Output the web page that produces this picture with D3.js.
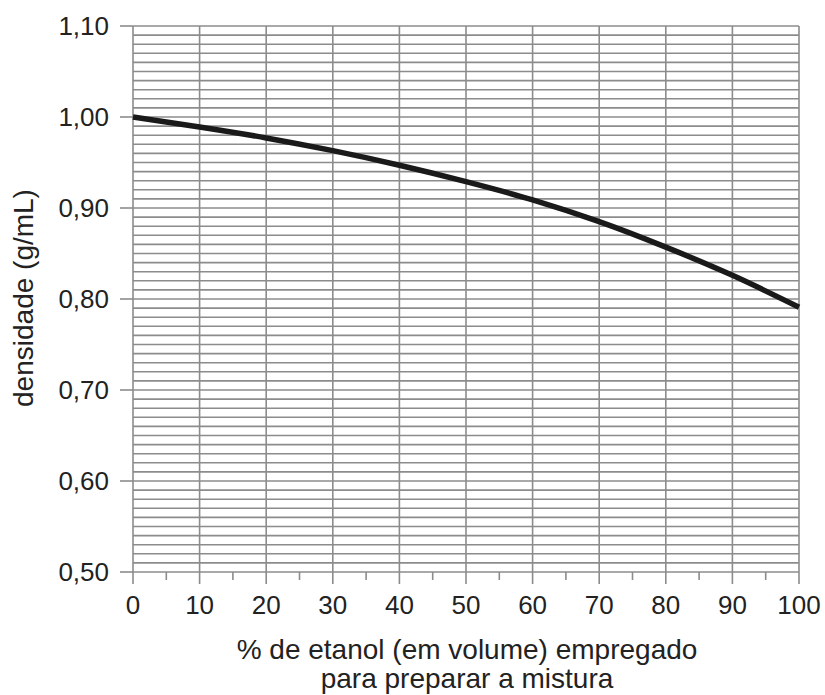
<!DOCTYPE html>
<html>
<head>
<meta charset="utf-8">
<script src="https://cdn.jsdelivr.net/npm/d3@7"></script>
<style>
    body { margin: 0; background: #fff; }
    svg { display: block; font-family: "Liberation Sans", Arial, sans-serif; }
    .grid line { stroke: #8c8c8c; stroke-width: 1.6; }
    .tick-label { fill: #222; font-size: 26px; }
    .axis-title { fill: #222; font-size: 28px; }
</style>
</head>
<body>
<svg id="chart" width="825" height="695"></svg>
<script>
(function () {
    "use strict";

    // % de etanol (em volume) e densidade
    var etanol = [0, 10, 20, 30, 40, 50, 60, 70, 80, 90, 100];
    var densidade = [1.000, 0.989, 0.977, 0.963, 0.947, 0.929, 0.909, 0.885, 0.857, 0.826, 0.791];
    var xTicks = [0, 10, 20, 30, 40, 50, 60, 70, 80, 90, 100];
    var xMinorTicks = [5, 15, 25, 35, 45, 55, 65, 75, 85, 95];
    var yTicks = [0.50, 0.60, 0.70, 0.80, 0.90, 1.00, 1.10];

    var svg = d3.select("#chart");
    var left = 133, right = 799, top = 26, bottom = 572;

    var x = d3.scaleLinear().domain([0, 100]).range([left, right]);
    var y = d3.scaleLinear().domain([0.5, 1.1]).range([bottom, top]);
    var fmt = function (v) { return d3.format(".2f")(v).replace(".", ","); };

    var grid = svg.append("g").attr("class", "grid");

    // horizontal lines every 0,01
    var hLines = d3.range(0, 61).map(function (i) { return 0.5 + i * 0.01; });
    grid.selectAll(".h")
        .data(hLines)
        .enter()
        .append("line")
        .attr("class", "h")
        .attr("x1", left)
        .attr("x2", right)
        .attr("y1", function (d) { return y(d); })
        .attr("y2", function (d) { return y(d); });

    // vertical lines + major ticks below
    grid.selectAll(".v")
        .data(xTicks)
        .enter()
        .append("line")
        .attr("class", "v")
        .attr("x1", function (d) { return x(d); })
        .attr("x2", function (d) { return x(d); })
        .attr("y1", top)
        .attr("y2", bottom + 12);

    grid.selectAll(".vm")
        .data(xMinorTicks)
        .enter()
        .append("line")
        .attr("class", "vm")
        .attr("x1", function (d) { return x(d); })
        .attr("x2", function (d) { return x(d); })
        .attr("y1", bottom)
        .attr("y2", bottom + 8);

    // y ticks to the left
    grid.selectAll(".yt")
        .data(yTicks)
        .enter()
        .append("line")
        .attr("class", "yt")
        .attr("x1", left - 13)
        .attr("x2", left)
        .attr("y1", function (d) { return y(d); })
        .attr("y2", function (d) { return y(d); });

    svg.append("g").selectAll("text")
        .data(yTicks)
        .enter()
        .append("text")
        .attr("class", "tick-label")
        .attr("x", left - 24)
        .attr("y", function (d) { return y(d); })
        .attr("dy", "0.36em")
        .attr("text-anchor", "end")
        .text(fmt);

    svg.append("g").selectAll("text")
        .data(xTicks)
        .enter()
        .append("text")
        .attr("class", "tick-label")
        .attr("x", function (d) { return x(d); })
        .attr("y", 614)
        .attr("text-anchor", "middle")
        .text(function (d) { return d; });

    var line = d3.line()
        .x(function (d, i) { return x(etanol[i]); })
        .y(function (d) { return y(d); })
        .curve(d3.curveMonotoneX);

    svg.append("path")
        .datum(densidade)
        .attr("fill", "none")
        .attr("stroke", "#1a1a1a")
        .attr("stroke-width", 5.5)
        .attr("d", line);

    svg.append("text")
        .attr("class", "axis-title")
        .attr("transform", "translate(33,298) rotate(-90)")
        .attr("text-anchor", "middle")
        .text("densidade (g/mL)");

    svg.append("text")
        .attr("class", "axis-title")
        .attr("x", 467)
        .attr("y", 659)
        .attr("text-anchor", "middle")
        .text("% de etanol (em volume) empregado");

    svg.append("text")
        .attr("class", "axis-title")
        .attr("x", 467)
        .attr("y", 688)
        .attr("text-anchor", "middle")
        .text("para preparar a mistura");
}());
</script>
</body>
</html>
